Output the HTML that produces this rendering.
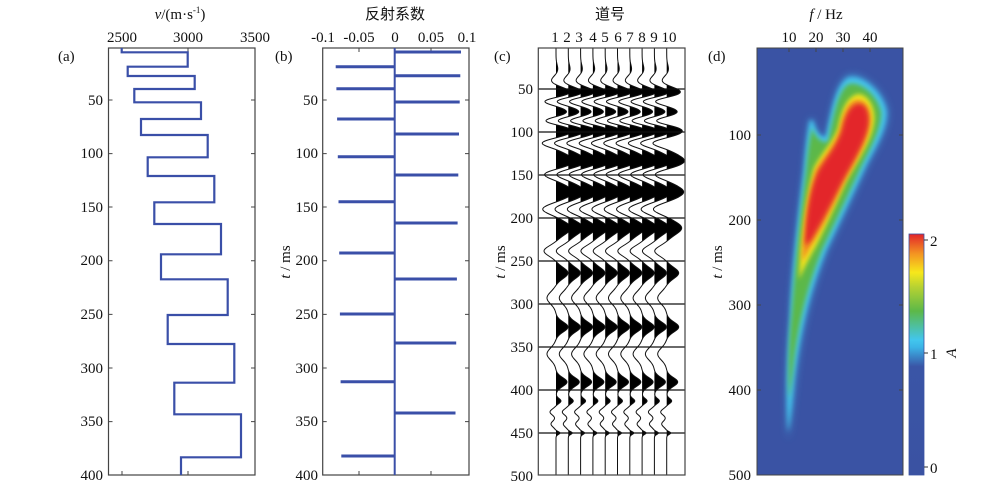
<!DOCTYPE html>
<html><head><meta charset="utf-8"><style>
html,body{margin:0;padding:0;background:#fff;}
svg{display:block;font-family:"Liberation Serif","Noto Serif CJK SC",serif;}
.t{font-size:15px;fill:#111;}
.cn{font-family:"Liberation Sans","Noto Sans CJK SC",sans-serif;font-size:15px;fill:#111;}
</style></head><body>
<svg id="s" width="1000" height="494" viewBox="0 0 1000 494" xmlns="http://www.w3.org/2000/svg">
<defs>
<filter id="bl" x="-50%" y="-50%" width="200%" height="200%"><feGaussianBlur stdDeviation="2.5"/></filter>
<filter id="bl2" x="-50%" y="-50%" width="200%" height="200%"><feGaussianBlur stdDeviation="4"/></filter>
<linearGradient id="cb" x1="0" y1="1" x2="0" y2="0">
<stop offset="0" stop-color="#3a52a2"/><stop offset="0.45" stop-color="#3a55a6"/>
<stop offset="0.53" stop-color="#3bb4e6"/><stop offset="0.56" stop-color="#42c6ee"/>
<stop offset="0.68" stop-color="#5cb848"/><stop offset="0.78" stop-color="#b7d232"/>
<stop offset="0.84" stop-color="#f7e81b"/><stop offset="0.92" stop-color="#f39222"/>
<stop offset="1" stop-color="#e2242a"/></linearGradient>
<clipPath id="dc"><rect x="757" y="48" width="146" height="427"/></clipPath>
</defs>

<!-- Panel a -->
<text class="t" x="180" y="19" text-anchor="middle"><tspan font-style="italic">v</tspan>/(m·s<tspan font-size="9" dy="-6">-1</tspan><tspan dy="6">)</tspan></text>
<g class="t" text-anchor="middle"><text x="122" y="42">2500</text><text x="188" y="42">3000</text><text x="255" y="42">3500</text></g>
<text class="t" x="58" y="61">(a)</text>
<g class="t" text-anchor="end">
<text x="103" y="105">50</text><text x="103" y="158">100</text><text x="103" y="212">150</text><text x="103" y="265">200</text><text x="103" y="319">250</text><text x="103" y="373">300</text><text x="103" y="426">350</text><text x="103" y="480">400</text></g>
<rect x="108.5" y="48" width="146.5" height="427" fill="none" stroke="#444" stroke-width="1.2"/>
<g stroke="#444" stroke-width="1">
<path d="M108.5 100h4M108.5 153.6h4M108.5 207h4M108.5 260.8h4M108.5 314.4h4M108.5 368h4M108.5 421.6h4M255 100h-4M255 153.6h-4M255 207h-4M255 260.8h-4M255 314.4h-4M255 368h-4M255 421.6h-4M122 48v4M188 48v4M122 475v-4M188 475v-4"/></g>
<polyline fill="none" stroke="#3a4fa8" stroke-width="2.2" points="121.7,48 121.7,52.3 187.7,52.3 187.7,66.7 127.7,66.7 127.7,76 194.7,76 194.7,89 134.3,89 134.3,102.3 201,102.3 201,119 141,119 141,135 207.7,135 207.7,157.3 147.7,157.3 147.7,176 214.3,176 214.3,202.3 154.3,202.3 154.3,224 221,224 221,254.3 161,254.3 161,279.3 227.7,279.3 227.7,315 167.7,315 167.7,344 234.3,344 234.3,382.7 174.3,382.7 174.3,414.3 241,414.3 241,457.3 181,457.3 181,475"/>

<!-- Panel b -->
<text class="cn" x="395" y="19" text-anchor="middle">反射系数</text>
<g class="t" text-anchor="middle"><text x="323" y="42">-0.1</text><text x="359" y="42">-0.05</text><text x="395" y="42">0</text><text x="431" y="42">0.05</text><text x="467" y="42">0.1</text></g>
<text class="t" x="275" y="61">(b)</text>
<g class="t" text-anchor="end">
<text x="318" y="105">50</text><text x="318" y="158">100</text><text x="318" y="212">150</text><text x="318" y="265">200</text><text x="318" y="319">250</text><text x="318" y="373">300</text><text x="318" y="426">350</text><text x="318" y="480">400</text></g>
<text class="t" transform="translate(290,262) rotate(-90)" text-anchor="middle"><tspan font-style="italic">t</tspan> / ms</text>
<rect x="322.7" y="48" width="146.3" height="427" fill="none" stroke="#444" stroke-width="1.2"/>
<g stroke="#444" stroke-width="1">
<path d="M322.7 100h4M322.7 153.6h4M322.7 207h4M322.7 260.8h4M322.7 314.4h4M322.7 368h4M322.7 421.6h4M469 100h-4M469 153.6h-4M469 207h-4M469 260.8h-4M469 314.4h-4M469 368h-4M469 421.6h-4M359 48v4M431 48v4M359 475v-4M431 475v-4"/></g>
<g stroke="#3a4fa8" stroke-width="3" fill="none">
<path d="M394.7 52h66.3M394.7 75.7h65.6M394.7 102h65M394.7 134h64.3M394.7 175h63.6M394.7 223h62.9M394.7 279h62.2M394.7 343h61.5M394.7 413h60.8"/>
<path d="M394.7 66.7h-59M394.7 88.7h-58.3M394.7 119h-57.6M394.7 156.7h-56.9M394.7 201.7h-56.2M394.7 253h-55.5M394.7 314h-54.8M394.7 381.7h-54.1M394.7 456h-53.4"/>
</g>
<line x1="394.7" y1="48" x2="394.7" y2="475" stroke="#3a4fa8" stroke-width="2"/>

<!-- Panel c -->
<text class="cn" x="610" y="19" text-anchor="middle">道号</text>
<g class="t" text-anchor="middle"><text x="555" y="42">1</text><text x="567" y="42">2</text><text x="579" y="42">3</text><text x="593" y="42">4</text><text x="605" y="42">5</text><text x="618" y="42">6</text><text x="630" y="42">7</text><text x="642" y="42">8</text><text x="654" y="42">9</text><text x="669" y="42">10</text></g>
<text class="t" x="494" y="61">(c)</text>
<g class="t" text-anchor="end">
<text x="533" y="94">50</text><text x="533" y="137">100</text><text x="533" y="180">150</text><text x="533" y="223">200</text><text x="533" y="266">250</text><text x="533" y="309">300</text><text x="533" y="352">350</text><text x="533" y="395">400</text><text x="533" y="438">450</text><text x="533" y="481">500</text></g>
<text class="t" transform="translate(505,262) rotate(-90)" text-anchor="middle"><tspan font-style="italic">t</tspan> / ms</text>
<g id="traces"></g>
<g stroke="#111" stroke-width="1.3">
<path d="M538.3 89h146.7M538.3 132h146.7M538.3 175h146.7M538.3 218h146.7M538.3 261h146.7M538.3 304h146.7M538.3 347h146.7M538.3 390h146.7M538.3 433h146.7"/></g>
<rect x="538.3" y="48" width="146.7" height="427" fill="none" stroke="#444" stroke-width="1.2"/>

<!-- Panel d -->
<text class="t" x="826" y="19" text-anchor="middle"><tspan font-style="italic">f</tspan> / Hz</text>
<g class="t" text-anchor="middle"><text x="789" y="42">10</text><text x="816" y="42">20</text><text x="843" y="42">30</text><text x="870" y="42">40</text></g>
<text class="t" x="708" y="61">(d)</text>
<g class="t" text-anchor="end">
<text x="751" y="140">100</text><text x="751" y="225">200</text><text x="751" y="310">300</text><text x="751" y="395">400</text><text x="751" y="480">500</text></g>
<text class="t" transform="translate(722,262) rotate(-90)" text-anchor="middle"><tspan font-style="italic">t</tspan> / ms</text>
<rect x="757" y="48" width="146" height="427" fill="#3a53a4"/>
<g clip-path="url(#dc)">
<path filter="url(#bl2)" fill="#3fa0da" opacity="0.7" d="M788 440 C786 400 787 360 790 320 C792 270 798 220 804 170 C806 145 808 130 810 118 L813 119 C816 132 820 138 826 137 C832 108 836 82 848 75 C862 71 884 90 888 110 C890 126 878 146 868 165 C854 195 840 225 828 250 C812 290 802 330 796 380 C793 405 791 428 788 440Z"/>
<path filter="url(#bl)" fill="#44c4ec" d="M788 432 C786 400 787 360 790 320 C792 270 798 220 804 170 C806 145 808 130 810 120 L813 121 C816 132 820 138 826 137 C832 110 836 85 848 78 C862 74 882 92 886 110 C888 126 876 146 866 165 C852 195 838 225 826 250 C810 290 800 330 794 380 C792 405 790 425 788 432Z"/>
<path filter="url(#bl)" fill="#5cb848" d="M789 400 C788 370 789 340 792 310 C795 265 800 220 806 172 C808 150 810 138 812 128 C816 138 821 143 828 142 C834 114 838 90 849 84 C861 81 878 96 881 112 C882 126 872 146 862 165 C848 195 834 225 822 250 C808 285 799 320 794 360 C792 380 790 392 789 400Z"/>
<path filter="url(#bl)" fill="#f2e41e" d="M799 280 C801 232 806 196 814 168 C822 152 832 144 838 128 C842 108 848 96 858 94 C868 94 876 108 874 122 C872 140 858 160 846 182 C836 204 826 226 816 246 C808 260 802 272 799 280Z"/>
<path filter="url(#bl)" fill="#f08a24" d="M802 262 C804 225 808 195 816 170 C824 156 834 147 840 130 C844 110 850 100 858 100 C867 100 872 112 870 124 C868 140 856 160 844 182 C834 203 824 224 812 244Z"/>
<path filter="url(#bl)" fill="#e3262a" d="M805 246 C806 215 810 190 818 172 C826 158 836 148 842 130 C846 112 852 104 859 104 C866 104 870 114 868 126 C865 142 854 160 842 182 C832 202 822 222 811 240Z"/>
</g>
<rect x="757" y="48" width="146" height="427" fill="none" stroke="#444" stroke-width="1"/>
<g stroke="#444" stroke-width="1"><path d="M757 135h4M757 220h4M757 305h4M757 390h4M903 135h-4M903 220h-4M903 305h-4M903 390h-4M789 48v4M816 48v4M843 48v4M870 48v4"/></g>
<rect x="909" y="234" width="15" height="241" fill="url(#cb)" stroke="#3a53a4" stroke-width="0.8"/>
<g stroke="#333" stroke-width="1"><path d="M924 240h4M924 353h4M924 467h4"/></g>
<g class="t"><text x="930" y="246">2</text><text x="930" y="359">1</text><text x="930" y="473">0</text></g>
<text class="t" transform="translate(956,353) rotate(-90)" text-anchor="middle" font-style="italic">A</text>
</svg>
<script>
(function(){
var ev=[[92,15,5],[112,11,4],[131,16,5],[161,18,6.5],[192,17,6.5],[228,15,6.5],[273,12,5.5],[327,12,5],[382,11,4.5],[401,5,2.5],[433,4,1.5],
[70,2,5],[82,-6,5],[101,-14,3.5],[121,-13,3.5],[143,-15,4],[174,-14,4.5],[209,-14,5],[251,-12,5],[298,-9,6],[354,-9,6],[412,-6,3],[424,-5,3]];
function v(y){var s=0;for(var k=0;k<ev.length;k++){var d=(y-ev[k][0])/ev[k][2];s+=ev[k][1]*Math.exp(-0.5*d*d);}return s;}
var g=document.getElementById('traces');var out='';
for(var i=0;i<10;i++){
 var x0=556+12.3*i;var line='';var fill='';
 for(var y=48;y<=475;y+=0.5){var a=v(y);var x=x0+a;line+=(y==48?'M':'L')+x.toFixed(2)+' '+y+' ';
  fill+=(y==48?'M':'L')+(x0+Math.max(0,a)).toFixed(2)+' '+y+' ';}
 fill+='L'+x0+' 475 L'+x0+' 48Z';
 out+='<path d="'+fill+'" fill="#000"/><path d="'+line+'" fill="none" stroke="#111" stroke-width="1"/>';
}
g.innerHTML=out;
})();
</script>
</body></html>
